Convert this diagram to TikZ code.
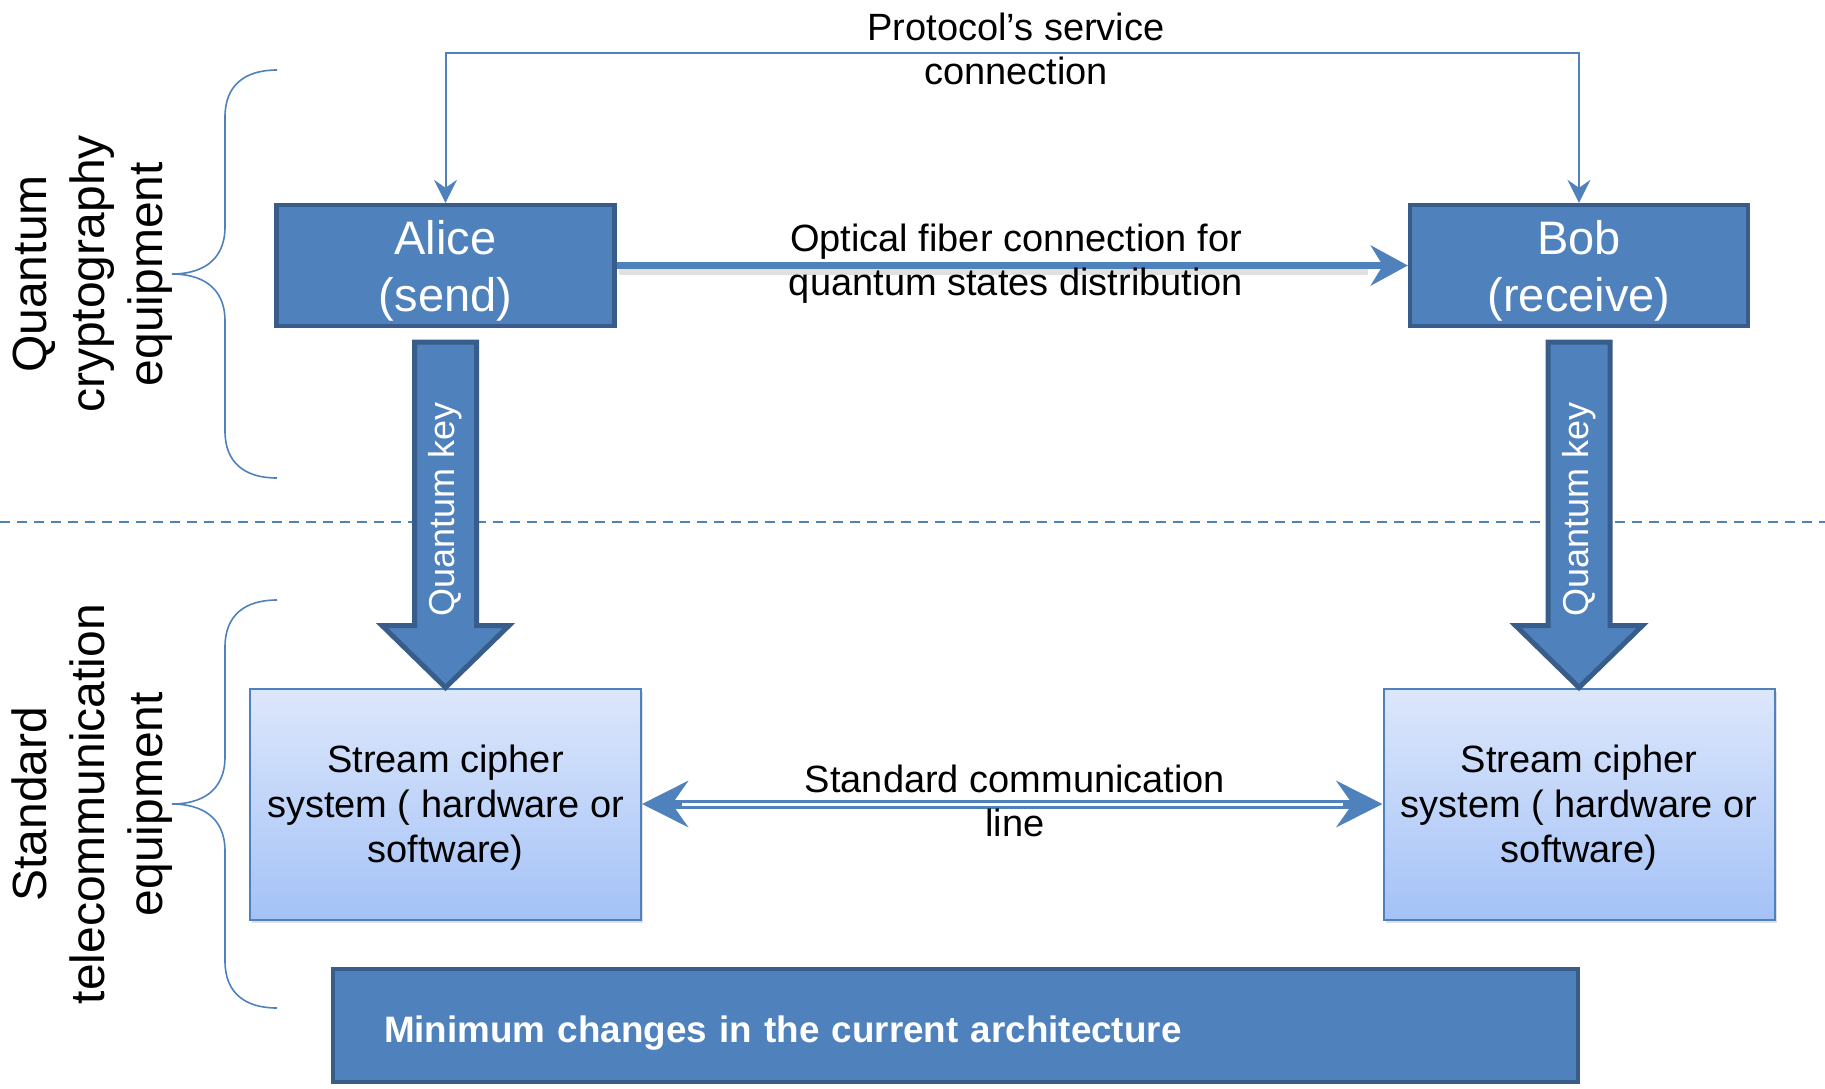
\documentclass[tikz,border=0pt]{standalone}
\usepackage{fontspec}
\setmainfont{Liberation Sans}
\usetikzlibrary{arrows.meta,calc,shadows}

\definecolor{qblue}{RGB}{79,129,189}
\definecolor{qdark}{RGB}{56,93,138}
\definecolor{qtop}{RGB}{221,231,251}
\definecolor{qbot}{RGB}{164,194,247}

\tikzset{
  darkbox/.style={draw=qdark, line width=2.2pt, fill=qblue, text=white,
    align=center, inner sep=0pt},
  cipherbox/.style={draw=qblue, line width=1pt, top color=qtop, bottom color=qbot,
    align=center, inner sep=0pt, minimum width=195.5pt, minimum height=115.5pt,
    font=\fontsize{19}{22.5}\selectfont, text depth=-1pt,
    drop shadow={opacity=0.25, shadow xshift=1pt, shadow yshift=-1.5pt}},
  partybox/.style={darkbox, minimum width=169pt, minimum height=60.5pt,
    font=\fontsize{23.5}{28.5}\selectfont, text depth=0pt},
  blockarr/.style={draw=qdark, line width=2.5pt, fill=qblue, line join=miter},
  keytext/.style={text=white, rotate=90, font=\fontsize{18}{21}\selectfont, inner sep=0pt},
  linklabel/.style={align=center, inner sep=0pt, font=\fontsize{19}{22}\selectfont},
  sidelabel/.style={align=center, rotate=90, inner sep=0pt, font=\fontsize{24}{29}\selectfont},
  servicelink/.style={draw=qblue, line width=1pt,
    -{Stealth[length=11.5pt, width=11.5pt, inset=4pt]}},
  fiberlink/.style={draw=qblue, line width=3.5pt,
    -{Stealth[length=18.5pt, width=20pt, inset=6pt]}},
  fibershadow/.style={draw=black, opacity=0.12, line width=4pt},
  bracestyle/.style={draw=qblue, line width=0.8pt},
  separator/.style={draw=qblue, line width=0.8pt, dash pattern=on 5pt off 3.5pt},
  curly/.pic={
    \draw[bracestyle] (52,-204) .. controls (20,-204) and (0,-189) .. (0,-157)
      -- (0,-47) .. controls (0,-12) and (-25,0) .. (-53,0)
      .. controls (-25,0) and (0,12) .. (0,47)
      -- (0,157) .. controls (0,189) and (20,204) .. (52,204);
  }
}

\begin{document}
\begin{tikzpicture}[x=0.5pt, y=-0.5pt]
\useasboundingbox (0,0) rectangle (1825,1088);

% boundary between the two equipment layers
\draw[separator] (0,522) -- (1825,522);

% side braces and their labels
\pic at (225,274) {curly};
\pic at (225,804) {curly};
\node[sidelabel] (qlabel) at (92.5,274) {Quantum\\cryptography\\equipment};
\node[sidelabel] (slabel) at (92.5,804) {Standard\\telecommunication\\equipment};

% quantum devices
\node[partybox] (alice) at (445.5,265.5) {Alice\\(send)};
\node[partybox] (bob) at (1579,265.5) {Bob\\(receive)};

% stream cipher units
\node[cipherbox] (sleft) at (445.5,804) {Stream cipher\\system ( hardware or\\software)};
\node[cipherbox] (sright) at (1579,804) {Stream cipher\\system ( hardware or\\software)};

% bottom banner
\node[darkbox, minimum width=622.5pt, minimum height=56.5pt, text width=571.5pt,
      inner xsep=25.5pt, align=left, text height=21pt, text depth=4pt,
      font=\bfseries\fontsize{18.4}{22}\selectfont]
      (banner) at (955.5,1025.5) {Minimum changes in the current architecture};

% service connection over the top
\coordinate (ptop) at (1012,53);
\draw[servicelink] (ptop) -| (alice.north);
\draw[servicelink] (ptop) -| (bob.north);
\node[linklabel] (plabel) at (1016,48.5) {Protocol’s service\\connection};

% optical fiber link with its soft shadow
\draw[fibershadow] ($(alice.east)+(2,5)$) -- ($(bob.west)+(-40,5)$);
\draw[fiberlink] (alice.east) -- (bob.west);
\node[linklabel] (flabel) at (1016,264) {Optical fiber connection for\\quantum states distribution};

% quantum key block arrows
\foreach \src/\dst/\nm in {alice/sleft/kl, bob/sright/kr}{
  \draw[blockarr] ($(\src.south)+(-31,14)$) -- ($(\src.south)+(31,14)$)
    -- ($(\dst.north)+(31,-62)$) -- ($(\dst.north)+(63.5,-62)$)
    -- (\dst.north) -- ($(\dst.north)+(-63.5,-62)$)
    -- ($(\dst.north)+(-31,-62)$) -- cycle;
  \node[keytext] (\nm) at ($(\src.south)!0.5!(\dst.north)+(0,2)$) {Quantum key};
}

% standard communication line (double line)
\draw[draw=qblue, line width=4.5pt,
      {Stealth[length=23pt, width=23pt, inset=8pt]}-{Stealth[length=23pt, width=23pt, inset=8pt]}]
      (sleft.east) -- (sright.west);
\draw[white, line width=1.5pt, shorten <=20pt, shorten >=20pt] (sleft.east) -- (sright.west);
\node[linklabel] (clabel) at (1015,801) {Standard communication\\line};
\end{tikzpicture}
\end{document}
